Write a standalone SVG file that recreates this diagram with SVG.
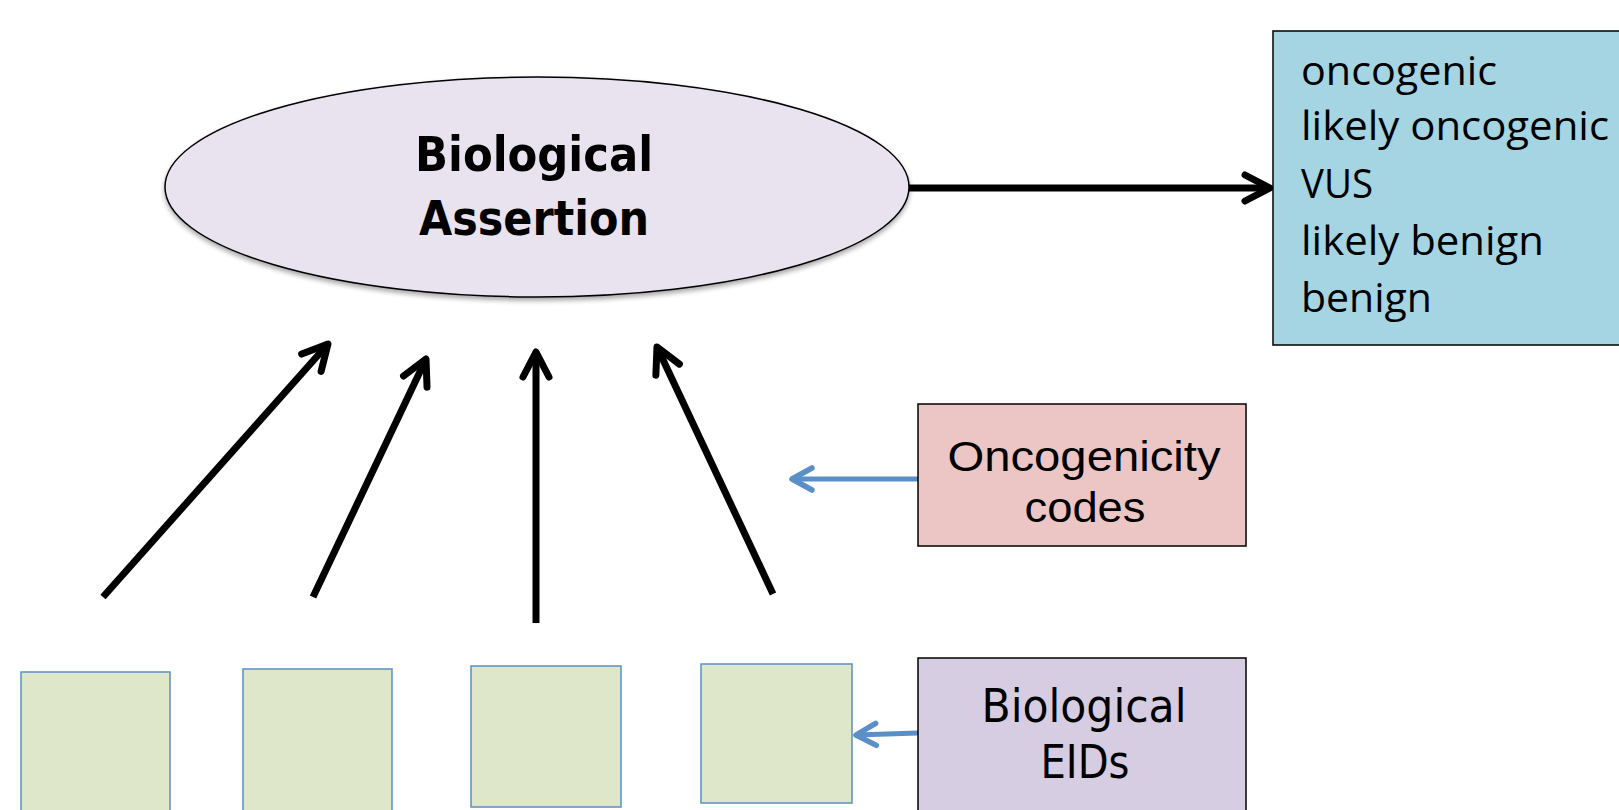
<svg xmlns="http://www.w3.org/2000/svg" width="1619" height="810" viewBox="0 0 1619 810">
  <defs>
    <filter id="shadow" x="-10%" y="-10%" width="120%" height="130%">
      <feGaussianBlur in="SourceAlpha" stdDeviation="2.5"/>
      <feOffset dx="0" dy="3" result="b"/>
      <feComponentTransfer><feFuncA type="linear" slope="0.35"/></feComponentTransfer>
      <feMerge><feMergeNode/><feMergeNode in="SourceGraphic"/></feMerge>
    </filter>
    <marker id="blackArrow" viewBox="-34 -20 40 40" refX="0" refY="0" markerWidth="40" markerHeight="40" orient="auto" markerUnits="userSpaceOnUse">
      <path d="M-25,-13 L0,0 L-25,13" fill="none" stroke="#000" stroke-width="7" stroke-linecap="round" stroke-linejoin="round"/>
    </marker>
    <marker id="blueArrow" viewBox="-30 -18 36 36" refX="0" refY="0" markerWidth="36" markerHeight="36" orient="auto" markerUnits="userSpaceOnUse">
      <path d="M-20,-11 L0,0 L-20,11" fill="none" stroke="#5b8fc7" stroke-width="5.5" stroke-linecap="round" stroke-linejoin="round"/>
    </marker>
  </defs>
  <style>
    .title { font-family: "Liberation Sans Narrow", "DejaVu Sans Condensed", "Liberation Sans", sans-serif; font-weight: bold; font-size: 48px; fill: #000; }
    .label { font-family: "Open Sans", "Liberation Sans", sans-serif; font-size: 40px; fill: #000; }
    .big { font-family: "Liberation Sans", sans-serif; font-size: 43px; }
    .narrow { font-family: "Liberation Sans Narrow", "DejaVu Sans Condensed", "Liberation Sans", sans-serif; font-size: 46px; fill: #000; }
    .black { stroke: #000; stroke-width: 7; fill: none; marker-end: url(#blackArrow); }
    .blue { stroke: #5b8fc7; stroke-width: 5; fill: none; marker-end: url(#blueArrow); }
    .green { fill: #dfe7cb; stroke: #5b8fc7; stroke-width: 1.5; }
  </style>
  <rect width="1619" height="810" fill="#fff"/>

  <g id="connectors">
    <line class="black" x1="909" y1="188" x2="1270" y2="188" stroke-width="7"/>
    <line class="black" x1="103" y1="597" x2="328" y2="344" stroke-width="7"/>
    <line class="black" x1="313" y1="597" x2="426" y2="359" stroke-width="7"/>
    <line class="black" x1="536" y1="623" x2="536" y2="352" stroke-width="7"/>
    <line class="black" x1="773" y1="594" x2="657" y2="347" stroke-width="7"/>
    <line class="blue" x1="918" y1="479" x2="792" y2="479" stroke-width="5"/>
    <line class="blue" x1="918" y1="733" x2="856" y2="735" stroke-width="5"/>
  </g>

  <g id="assertion">
    <ellipse cx="537" cy="187" rx="372" ry="110" fill="#e8e3ee" stroke="#000" stroke-width="1.5" filter="url(#shadow)"/>
    <text class="title" x="534" y="171" text-anchor="middle" textLength="238" lengthAdjust="spacingAndGlyphs">Biological</text>
    <text class="title" x="534" y="235" text-anchor="middle" textLength="230" lengthAdjust="spacingAndGlyphs">Assertion</text>
  </g>

  <g id="outcomes">
    <rect x="1273" y="31" width="360" height="314" fill="#a5d5e3" stroke="#000" stroke-width="1.5"/>
    <text class="label" x="1301" y="85" textLength="196" lengthAdjust="spacingAndGlyphs">oncogenic</text>
    <text class="label" x="1301" y="140" textLength="308" lengthAdjust="spacingAndGlyphs">likely oncogenic</text>
    <text class="label" x="1301" y="198" textLength="72" lengthAdjust="spacingAndGlyphs">VUS</text>
    <text class="label" x="1301" y="255" textLength="243" lengthAdjust="spacingAndGlyphs">likely benign</text>
    <text class="label" x="1301" y="312" textLength="131" lengthAdjust="spacingAndGlyphs">benign</text>
  </g>

  <g id="oncogenicity-codes">
    <rect x="918" y="404" width="328" height="142" fill="#ecc5c5" stroke="#000" stroke-width="1.5"/>
    <text class="label big" x="1084" y="471" text-anchor="middle" textLength="273" lengthAdjust="spacingAndGlyphs">Oncogenicity</text>
    <text class="label big" x="1085" y="522" text-anchor="middle" textLength="121" lengthAdjust="spacingAndGlyphs">codes</text>
  </g>

  <g id="evidence-1"><rect class="green" x="21" y="672" width="149" height="150"/></g>
  <g id="evidence-2"><rect class="green" x="243" y="669" width="149" height="150"/></g>
  <g id="evidence-3"><rect class="green" x="471" y="666" width="150" height="141"/></g>
  <g id="evidence-4"><rect class="green" x="701" y="664" width="151" height="139"/></g>

  <g id="biological-eids">
    <rect x="918" y="658" width="328" height="170" fill="#d6cde2" stroke="#000" stroke-width="1.5"/>
    <text class="narrow" x="1084" y="722" text-anchor="middle" textLength="205" lengthAdjust="spacingAndGlyphs">Biological</text>
    <text class="narrow" x="1085" y="778" text-anchor="middle" textLength="89" lengthAdjust="spacingAndGlyphs">EIDs</text>
  </g>
</svg>
